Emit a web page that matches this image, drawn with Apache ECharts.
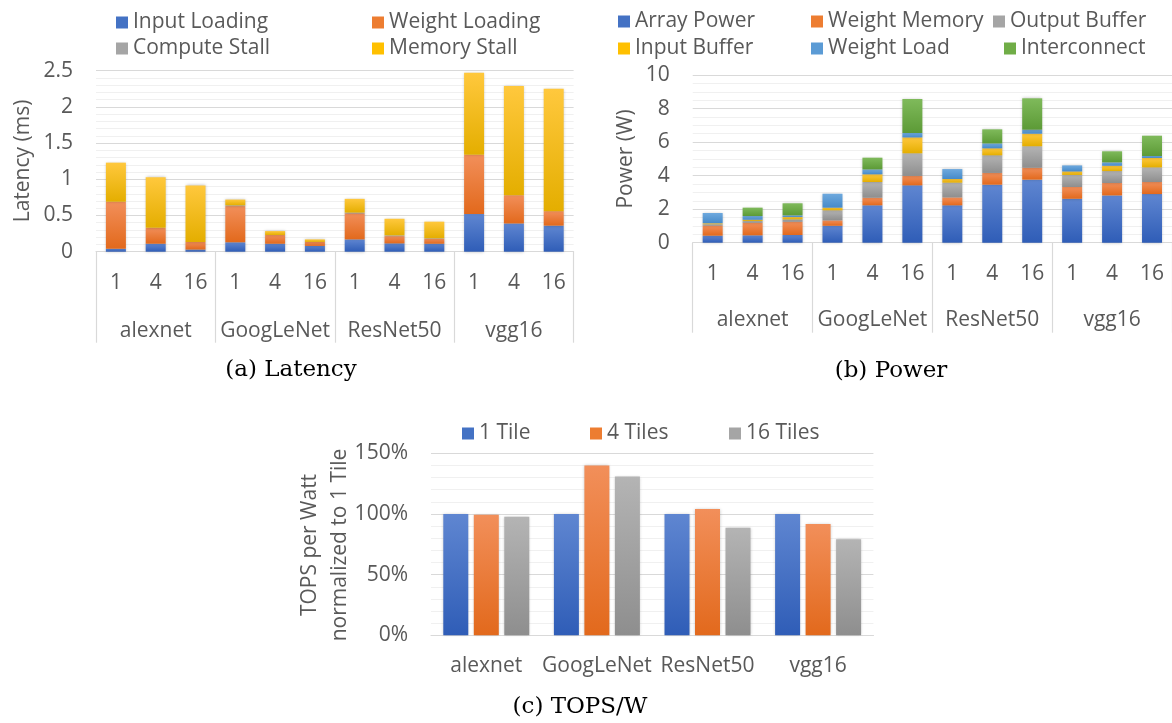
<!DOCTYPE html>
<html>
<head>
<meta charset="utf-8">
<script src="https://cdn.jsdelivr.net/npm/echarts@6/dist/echarts.min.js"></script>
<style>
  html, body { margin: 0; padding: 0; background: #ffffff; }
  #chart { width: 1172px; height: 723px; }
</style>
</head>
<body>
<div id="chart"></div>
<script>
// ---- Data ----
const networks = ['alexnet', 'GoogLeNet', 'ResNet50', 'vgg16'];
const tileCounts = ['1', '4', '16'];
const tileCategories = [].concat(tileCounts, tileCounts, tileCounts, tileCounts);

// (a) Latency breakdown, ms
const inputLoading  = [0.04, 0.11, 0.03, 0.13, 0.11, 0.08, 0.17, 0.115, 0.11, 0.52, 0.39, 0.36];
const weightLoading = [0.65, 0.22, 0.105, 0.50, 0.12, 0.055, 0.36, 0.10, 0.07, 0.82, 0.39, 0.20];
const computeStall  = [0, 0, 0, 0.01, 0, 0, 0.01, 0.01, 0.005, 0, 0, 0];
const memoryStall   = [0.54, 0.70, 0.78, 0.08, 0.055, 0.035, 0.19, 0.23, 0.23, 1.13, 1.51, 1.69];

// (b) Power breakdown, W
const arrayPower   = [0.42, 0.44, 0.46, 1.01, 2.23, 3.42, 2.23, 3.46, 3.76, 2.62, 2.82, 2.90];
const weightMemory = [0.60, 0.75, 0.79, 0.32, 0.45, 0.56, 0.47, 0.70, 0.71, 0.70, 0.74, 0.72];
const outputBuffer = [0.08, 0.10, 0.14, 0.60, 0.94, 1.35, 0.88, 1.05, 1.28, 0.72, 0.71, 0.87];
const inputBuffer  = [0.06, 0.08, 0.14, 0.16, 0.46, 0.95, 0.22, 0.42, 0.75, 0.21, 0.32, 0.56];
const weightLoad   = [0.61, 0.22, 0.10, 0.83, 0.29, 0.26, 0.59, 0.29, 0.24, 0.36, 0.20, 0.12];
const interconnect = [0, 0.50, 0.72, 0, 0.70, 2.03, 0, 0.84, 1.87, 0, 0.66, 1.21];

// (c) TOPS per Watt normalized to 1 tile, %
const oneTile      = [100, 100, 100, 100];
const fourTiles    = [99.4, 140.0, 104.1, 91.8];
const sixteenTiles = [97.7, 130.8, 88.7, 79.1];

// ---- Styling helpers ----
const FONT = '"Open Sans", sans-serif';
const TXT = '#595959';
const MAJOR = '#d9d9d9';
const MINOR = '#f0f0f0';

const palette = {
  blue:   ['#5f86d1', '#2f5db7', '#4472c4'],
  orange: ['#f28f5a', '#e2691c', '#ed7d31'],
  gray:   ['#b4b4b4', '#8e8e8e', '#a5a5a5'],
  yellow: ['#ffc83d', '#e4ae00', '#ffc000'],
  sky:    ['#6ea9de', '#468ac9', '#5b9bd5'],
  green:  ['#7fba5b', '#5c9a36', '#70ad47']
};

function fill(c) {
  return new echarts.graphic.LinearGradient(0, 0, 0, 1, [
    { offset: 0, color: c[0] },
    { offset: 1, color: c[1] }
  ]);
}

function stackSeries(name, data, col, axisIdx, stack) {
  return {
    name: name, type: 'bar', stack: stack, data: data,
    xAxisIndex: axisIdx, yAxisIndex: axisIdx === 0 ? 0 : 1,
    barWidth: 20,
    itemStyle: { color: fill(col), shadowBlur: 3, shadowColor: 'rgba(0,0,0,0.25)' },
    emphasis: { disabled: true }
  };
}

function legendItem(name, col, left, top) {
  return {
    data: [{ name: name, itemStyle: { color: col[2] } }],
    left: left, top: top, padding: 0,
    icon: 'rect', itemWidth: 12, itemHeight: 12,
    selectedMode: false,
    textStyle: { fontFamily: FONT, fontSize: 21, color: TXT }
  };
}

function valueAxis(gridIndex, max, interval, minorSplit, fmt) {
  return {
    type: 'value', gridIndex: gridIndex, min: 0, max: max, interval: interval,
    axisLine: { show: false }, axisTick: { show: false },
    axisLabel: { fontFamily: FONT, fontSize: 21, color: TXT, margin: 23, formatter: fmt },
    splitLine: { lineStyle: { color: MAJOR, width: 1.2 } },
    minorTick: { show: false, splitNumber: minorSplit },
    minorSplitLine: { show: true, lineStyle: { color: MINOR, width: 1.2 } }
  };
}

function tileAxis(gridIndex) {
  return {
    type: 'category', gridIndex: gridIndex, data: tileCategories, position: 'bottom',
    axisLine: { lineStyle: { color: MAJOR, width: 1.2 } },
    axisTick: { show: false },
    axisLabel: { fontFamily: FONT, fontSize: 21, color: TXT, margin: 21, interval: 0 }
  };
}

function groupAxis(gridIndex, tickLen, margin) {
  return {
    type: 'category', gridIndex: gridIndex, data: networks, position: 'bottom',
    axisLine: { show: false },
    axisTick: { show: true, length: tickLen, lineStyle: { color: MAJOR, width: 1.2 } },
    axisLabel: { fontFamily: FONT, fontSize: 21, color: TXT, margin: margin, interval: 0 },
    splitLine: { show: false }
  };
}

const chart = echarts.init(document.getElementById('chart'), null, { renderer: 'canvas' });

const option = {
  backgroundColor: '#ffffff',
  animation: false,
  grid: [
    { left: 96, top: 70.7, width: 477.6, height: 181 },
    { left: 692.7, top: 75, width: 483, height: 167.7 },
    { left: 431, top: 453.3, width: 442.4, height: 182 }
  ],
  xAxis: [
    tileAxis(0),
    groupAxis(0, 91, 69),
    tileAxis(1),
    groupAxis(1, 90, 67),
    {
      type: 'category', gridIndex: 2, data: networks,
      axisLine: { lineStyle: { color: MAJOR, width: 1.2 } },
      axisTick: { show: false },
      axisLabel: { fontFamily: FONT, fontSize: 21, color: TXT, margin: 20, interval: 0 }
    }
  ],
  yAxis: [
    valueAxis(0, 2.5, 0.5, 5),
    valueAxis(1, 10, 2, 4),
    valueAxis(2, 150, 50, 5, '{value}%')
  ],
  legend: [
    legendItem('Input Loading', palette.blue, 116, 12),
    legendItem('Weight Loading', palette.orange, 372, 12),
    legendItem('Compute Stall', palette.gray, 116, 38),
    legendItem('Memory Stall', palette.yellow, 372, 38),
    legendItem('Array Power', palette.blue, 618, 11),
    legendItem('Weight Memory', palette.orange, 811, 11),
    legendItem('Output Buffer', palette.gray, 993, 11),
    legendItem('Input Buffer', palette.yellow, 618, 38),
    legendItem('Weight Load', palette.sky, 811, 38),
    legendItem('Interconnect', palette.green, 1004, 38),
    legendItem('1 Tile', palette.blue, 462, 423),
    legendItem('4 Tiles', palette.orange, 590, 423),
    legendItem('16 Tiles', palette.gray, 729, 423)
  ],
  series: [
    stackSeries('Input Loading', inputLoading, palette.blue, 0, 'lat'),
    stackSeries('Weight Loading', weightLoading, palette.orange, 0, 'lat'),
    stackSeries('Compute Stall', computeStall, palette.gray, 0, 'lat'),
    stackSeries('Memory Stall', memoryStall, palette.yellow, 0, 'lat'),

    stackSeries('Array Power', arrayPower, palette.blue, 2, 'pow'),
    stackSeries('Weight Memory', weightMemory, palette.orange, 2, 'pow'),
    stackSeries('Output Buffer', outputBuffer, palette.gray, 2, 'pow'),
    stackSeries('Input Buffer', inputBuffer, palette.yellow, 2, 'pow'),
    stackSeries('Weight Load', weightLoad, palette.sky, 2, 'pow'),
    stackSeries('Interconnect', interconnect, palette.green, 2, 'pow'),

    { name: '1 Tile', type: 'bar', data: oneTile, xAxisIndex: 4, yAxisIndex: 2,
      barWidth: 25, barGap: '22%',
      itemStyle: { color: fill(palette.blue), shadowBlur: 3, shadowColor: 'rgba(0,0,0,0.25)' } },
    { name: '4 Tiles', type: 'bar', data: fourTiles, xAxisIndex: 4, yAxisIndex: 2,
      barWidth: 25, barGap: '22%',
      itemStyle: { color: fill(palette.orange), shadowBlur: 3, shadowColor: 'rgba(0,0,0,0.25)' } },
    { name: '16 Tiles', type: 'bar', data: sixteenTiles, xAxisIndex: 4, yAxisIndex: 2,
      barWidth: 25, barGap: '22%',
      itemStyle: { color: fill(palette.gray), shadowBlur: 3, shadowColor: 'rgba(0,0,0,0.25)' } }
  ],
  graphic: [
    { type: 'text', x: 23, y: 161, rotation: Math.PI / 2,
      style: { text: 'Latency (ms)', fontFamily: FONT, fontSize: 21, fill: TXT, align: 'center', verticalAlign: 'middle' } },
    { type: 'text', x: 626, y: 159, rotation: Math.PI / 2,
      style: { text: 'Power (W)', fontFamily: FONT, fontSize: 21, fill: TXT, align: 'center', verticalAlign: 'middle' } },
    { type: 'text', x: 325, y: 545, rotation: Math.PI / 2,
      style: { text: 'TOPS per Watt\nnormalized to 1 Tile', fontFamily: FONT, fontSize: 21, lineHeight: 30,
               fill: TXT, align: 'center', verticalAlign: 'middle' } },
    { type: 'text', x: 291, y: 370,
      style: { text: '(a) Latency', fontFamily: '"DejaVu Serif", serif', fontSize: 23, fill: '#000000', align: 'center', verticalAlign: 'middle' } },
    { type: 'text', x: 891, y: 371,
      style: { text: '(b) Power', fontFamily: '"DejaVu Serif", serif', fontSize: 23, fill: '#000000', align: 'center', verticalAlign: 'middle' } },
    { type: 'text', x: 580, y: 707,
      style: { text: '(c) TOPS/W', fontFamily: '"DejaVu Serif", serif', fontSize: 23, fill: '#000000', align: 'center', verticalAlign: 'middle' } }
  ]
};

chart.setOption(option);
</script>
</body>
</html>
